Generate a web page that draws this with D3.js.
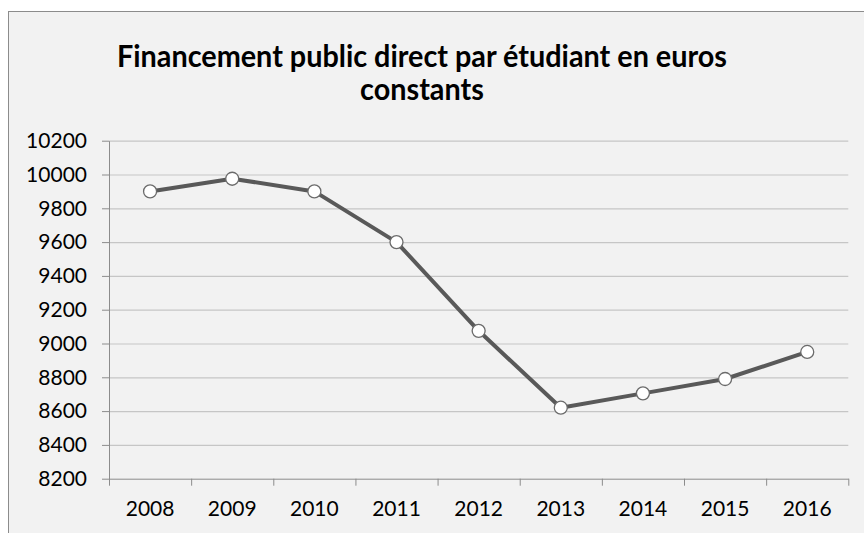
<!DOCTYPE html>
<html>
<head>
<meta charset="utf-8">
<script src="https://cdn.jsdelivr.net/npm/d3@7"></script>
<style>
  body { margin: 0; background: #fff; }
  svg { display: block; }
</style>
</head>
<body>
<div id="chart"></div>
<script>
// data
const years = ["2008", "2009", "2010", "2011", "2012", "2013", "2014", "2015", "2016"];
const funding = [9900, 9975, 9900, 9600, 9075, 8620, 8705, 8790, 8950];
const yTicks = [8200, 8400, 8600, 8800, 9000, 9200, 9400, 9600, 9800, 10000, 10200];
const titleLines = ["Financement public direct par étudiant en euros", "constants"];

const width = 864, height = 533;
const margin = {top: 140.7, right: 15.7, bottom: 54.3, left: 109};

const svg = d3.select("#chart").append("svg")
    .attr("width", width)
    .attr("height", height);

// chart box (runs off the right and bottom edge)
svg.append("rect")
    .attr("x", 8.5).attr("y", 11.5)
    .attr("width", 900).attr("height", 600)
    .attr("fill", "#f2f2f2")
    .attr("stroke", "#8c8c8c")
    .attr("stroke-width", 1);

// title, glyphs squeezed a bit to get the narrow look of the original
const titleSize = 30;
const titles = svg.append("g")
    .selectAll("text")
    .data(titleLines)
    .enter()
    .append("text")
    .attr("x", 422)
    .attr("y", (d, i) => 67 + i * 33)
    .attr("text-anchor", "middle")
    .attr("font-family", "Lato, 'Open Sans', sans-serif")
    .attr("font-weight", "bold")
    .attr("font-size", titleSize)
    .attr("fill", "#000")
    .text(d => d);
const squeeze = 610 / titles.nodes()[0].getComputedTextLength();
titles.each(function() {
    const len = this.getComputedTextLength();
    d3.select(this)
        .attr("textLength", len * squeeze)
        .attr("lengthAdjust", "spacingAndGlyphs");
});

const x = d3.scaleBand()
    .domain(years)
    .range([margin.left, width - margin.right]);

const xIdx = d3.scaleLinear()
    .domain([0, years.length])
    .range([margin.left, width - margin.right]);

const y = d3.scaleLinear()
    .domain([8200, 10200])
    .range([height - margin.bottom, margin.top]);

// gridlines
svg.append("g")
    .attr("transform", `translate(${margin.left},0)`)
    .call(d3.axisLeft(y).tickValues(yTicks.slice(1)).tickSize(-(width - margin.right - margin.left)).tickFormat(""))
    .call(g => g.select(".domain").remove())
    .call(g => g.selectAll("line").attr("stroke", "#c6c6c6").attr("stroke-width", 1.2));

// y axis
svg.append("g")
    .attr("transform", `translate(${margin.left},0)`)
    .call(d3.axisLeft(y).tickValues(yTicks).tickFormat(d3.format("d")).tickSize(7).tickPadding(15).tickSizeOuter(0))
    .call(g => g.select(".domain").attr("stroke", "#8c8c8c"))
    .call(g => g.selectAll("line").attr("stroke", "#8c8c8c"))
    .call(g => g.selectAll("text")
        .attr("font-family", "Lato, 'Open Sans', sans-serif")
        .attr("font-size", 21)
        .attr("fill", "#000"));

// x axis: ticks between categories
svg.append("g")
    .attr("transform", `translate(0,${height - margin.bottom})`)
    .call(d3.axisBottom(xIdx).tickValues(d3.range(years.length + 1)).tickSize(7).tickSizeOuter(0).tickFormat(""))
    .call(g => g.select(".domain").attr("stroke", "#8c8c8c"))
    .call(g => g.selectAll("line").attr("stroke", "#8c8c8c"));

svg.append("g")
    .attr("transform", `translate(0,${height - margin.bottom})`)
    .call(d3.axisBottom(x).tickSize(0).tickPadding(22))
    .call(g => g.select(".domain").remove())
    .call(g => g.selectAll("text")
        .attr("font-family", "Lato, 'Open Sans', sans-serif")
        .attr("font-size", 21)
        .attr("fill", "#000"));

// the series
const pts = years.map((d, i) => ({year: d, value: funding[i]}));

svg.append("path")
    .datum(pts)
    .attr("fill", "none")
    .attr("stroke", "#595959")
    .attr("stroke-width", 4)
    .attr("stroke-linejoin", "round")
    .attr("d", d3.line()
        .x(d => x(d.year) + x.bandwidth() / 2)
        .y(d => y(d.value)));

svg.append("g")
    .selectAll("circle")
    .data(pts)
    .enter()
    .append("circle")
    .attr("cx", d => x(d.year) + x.bandwidth() / 2)
    .attr("cy", d => y(d.value))
    .attr("r", 6.5)
    .attr("fill", "#fff")
    .attr("stroke", "#6b6b6b")
    .attr("stroke-width", 1.3);
</script>
</body>
</html>
